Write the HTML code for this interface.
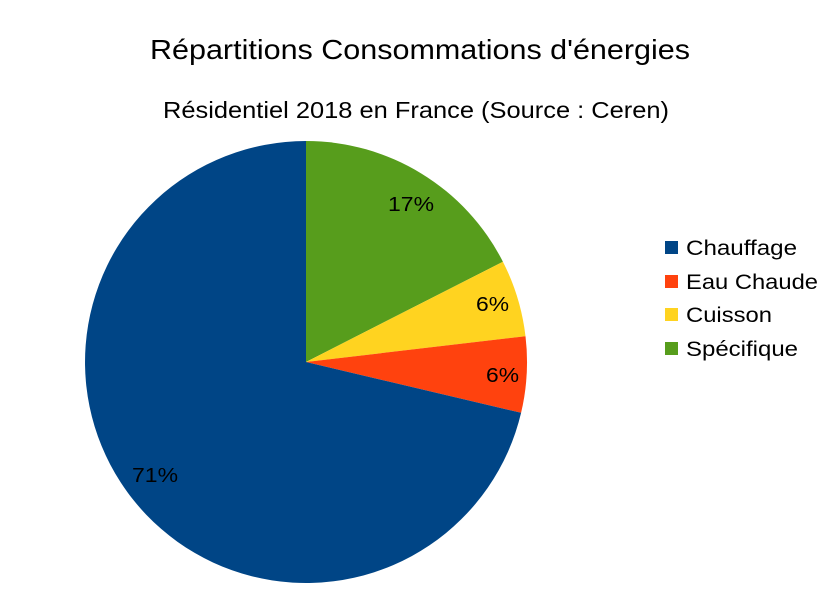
<!DOCTYPE html>
<html><head><meta charset="utf-8"><style>
html,body{margin:0;padding:0;background:#fff;}
svg{display:block;font-family:"Liberation Sans",sans-serif;}
</style></head><body>
<svg width="840" height="596" viewBox="0 0 840 596" xmlns="http://www.w3.org/2000/svg">
<rect width="840" height="596" fill="#fff"/>
<text x="150" y="59" font-size="28" textLength="540" lengthAdjust="spacingAndGlyphs" fill="#000">Répartitions Consommations d'énergies</text>
<text x="163" y="118" font-size="23" textLength="506" lengthAdjust="spacingAndGlyphs" fill="#000">Résidentiel 2018 en France (Source : Ceren)</text>
<path d="M306,362 L306,141 A221,221 0 0 1 502.9,261.7 Z" fill="#579d1c"/>
<path d="M306,362 L502.9,261.7 A221,221 0 0 1 525.5,336.2 Z" fill="#ffd320"/>
<path d="M306,362 L525.5,336.2 A221,221 0 0 1 521.1,412.8 Z" fill="#ff420e"/>
<path d="M306,362 L521.1,412.8 A221,221 0 1 1 306,141 Z" fill="#004586"/>
<g font-size="20" fill="#000">
<text x="388" y="211" textLength="46" lengthAdjust="spacingAndGlyphs">17%</text>
<text x="476" y="311" textLength="33" lengthAdjust="spacingAndGlyphs">6%</text>
<text x="486" y="382" textLength="33" lengthAdjust="spacingAndGlyphs">6%</text>
<text x="132" y="482" textLength="46" lengthAdjust="spacingAndGlyphs">71%</text>
</g>
<rect x="665" y="241" width="13" height="13" fill="#004586"/>
<rect x="665" y="275" width="13" height="13" fill="#ff420e"/>
<rect x="665" y="308" width="13" height="13" fill="#ffd320"/>
<rect x="665" y="342" width="13" height="13" fill="#579d1c"/>
<g font-size="21" fill="#000">
<text x="686" y="255" textLength="111" lengthAdjust="spacingAndGlyphs">Chauffage</text>
<text x="686" y="289" textLength="132" lengthAdjust="spacingAndGlyphs">Eau Chaude</text>
<text x="686" y="322" textLength="86" lengthAdjust="spacingAndGlyphs">Cuisson</text>
<text x="686" y="356" textLength="112" lengthAdjust="spacingAndGlyphs">Spécifique</text>
</g>
</svg>
</body></html>
